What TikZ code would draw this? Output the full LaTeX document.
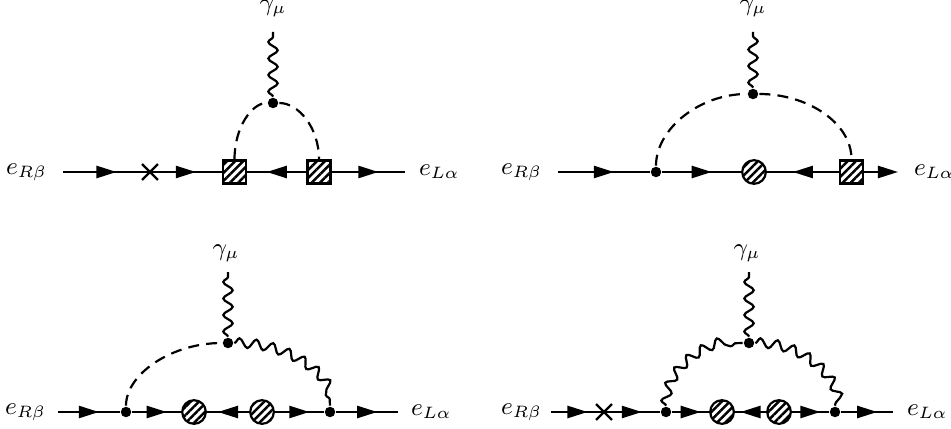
\documentclass[tikz,border=0pt]{standalone}
\usetikzlibrary{arrows.meta,decorations.pathmorphing,decorations.markings,patterns.meta,shapes.misc}
\begin{document}
\begin{tikzpicture}[x=0.3636pt,y=-0.3636pt,line width=0.8pt,
  fwd/.style={postaction={decorate},decoration={markings,mark=at position #1 with {\arrow[xshift=3.65pt]{Triangle[length=7.3pt,width=4.4pt]}}}},
  fwd/.default=0.5,
  endarr/.style={-{Triangle[length=7.3pt,width=4.4pt]}},
  scal/.style={dash pattern=on 4pt off 2.6pt},
  phot/.style={decorate,decoration={snake,amplitude=1.7pt,segment length=6pt}},
  vtx/.style={circle,fill,inner sep=0pt,minimum size=3.8pt},
  blobc/.style={circle,draw,line width=0.8pt,inner sep=0pt,minimum size=8.6pt,pattern={Lines[angle=45,distance=2.1pt,line width=0.9pt]}},
  blobs/.style={rectangle,draw,line width=0.8pt,inner sep=0pt,minimum size=8.4pt,pattern={Lines[angle=45,distance=2.1pt,line width=0.9pt]}},
  mass/.style={cross out,draw,line width=0.8pt,inner sep=0pt,minimum size=5pt},
  lab/.style={inner sep=0pt,font=\fontsize{9}{11}\selectfont}]
\useasboundingbox (0,0) rectangle (951,429);

% ---------- Diagram 1 ----------
\coordinate (a1) at (63,172);
\node[mass] (x1) at (150,172) {};
\node[blobs] (s1) at (234.5,172) {};
\node[blobs] (s2) at (319,172) {};
\coordinate (b1) at (405,172);
\node[vtx] (v1) at (273,103) {};
\coordinate (g1) at (273,32);
\draw[fwd] (a1) -- (x1.center);
\draw[fwd] (x1.center) -- (s1);
\draw[fwd] (s2) -- (s1);
\draw[fwd] (s2) -- (b1);
\draw[scal] (s1.north) .. controls +(0,-31.8) and +(-21.3,0) .. (v1);
\draw[scal] (v1) .. controls +(25.4,0) and +(0,-31.8) .. (s2.north);
\draw[phot] (v1) -- (g1);
\node[lab,anchor=east] (l1) at (48,172) {$e_{R\beta}$};
\node[lab,anchor=west] (r1) at (418,172) {$e_{L\alpha}$};
\node[lab,anchor=base] (t1) at (273,11) {$\gamma_\mu$};

% ---------- Diagram 2 ----------
\coordinate (a2) at (558,172);
\node[vtx] (v2a) at (656,172) {};
\node[blobc] (c2) at (754,172) {};
\node[blobs] (s3) at (851.5,172) {};
\coordinate (b2) at (898,172);
\node[vtx] (v2) at (753,94) {};
\coordinate (g2) at (753,32);
\draw[fwd] (a2) -- (v2a);
\draw[fwd] (v2a) -- (c2);
\draw[fwd] (s3) -- (c2);
\draw[endarr] (s3) -- (b2);
\draw[scal] (v2a) .. controls +(0,-43) and +(-53.6,0) .. (v2);
\draw[scal] (v2) .. controls +(54.4,0) and +(0,-36.7) .. (s3.north);
\draw[phot] (v2) -- (g2);
\node[lab,anchor=east] (l2) at (543,172) {$e_{R\beta}$};
\node[lab,anchor=west] (r2) at (913,172) {$e_{L\alpha}$};
\node[lab,anchor=base] (t2) at (753,11) {$\gamma_\mu$};

% ---------- Diagram 3 ----------
\coordinate (a3) at (58,412);
\node[vtx] (v3a) at (126,412) {};
\node[blobc] (c3) at (194,412) {};
\node[blobc] (c4) at (262,412) {};
\node[vtx] (v3b) at (330,412) {};
\coordinate (b3) at (398,412);
\node[vtx] (v3) at (228,343) {};
\coordinate (g3) at (228,272);
\draw[fwd] (a3) -- (v3a);
\draw[fwd] (v3a) -- (c3);
\draw[fwd] (c4) -- (c3);
\draw[fwd] (c4) -- (v3b);
\draw[fwd] (v3b) -- (b3);
\draw[scal] (v3a) .. controls +(0,-38) and +(-56.3,0) .. (v3);
\draw[phot] (v3) .. controls +(56.3,0) and +(0,-38) .. (v3b);
\draw[phot] (v3) -- (g3);
\node[lab,anchor=east] (l3) at (47,412) {$e_{R\beta}$};
\node[lab,anchor=west] (r3) at (410,412) {$e_{L\alpha}$};
\node[lab,anchor=base] (t3) at (226,256) {$\gamma_\mu$};

% ---------- Diagram 4 ----------
\coordinate (a4) at (551,412);
\node[mass] (x2) at (604,412) {};
\node[vtx] (v4a) at (666,412) {};
\node[blobc] (c5) at (722,412) {};
\node[blobc] (c6) at (779,412) {};
\node[vtx] (v4b) at (835,412) {};
\coordinate (b4) at (893,412);
\node[vtx] (v4) at (749,343) {};
\coordinate (g4) at (749,272);
\draw[fwd] (a4) -- (x2.center);
\draw[fwd] (x2.center) -- (v4a);
\draw[fwd] (v4a) -- (c5);
\draw[fwd] (c6) -- (c5);
\draw[fwd] (c6) -- (v4b);
\draw[fwd] (v4b) -- (b4);
\draw[phot] (v4a) .. controls +(0,-38) and +(-45.8,0) .. (v4);
\draw[phot] (v4) .. controls +(47,0) and +(0,-38) .. (v4b);
\draw[phot] (v4) -- (g4);
\node[lab,anchor=east] (l4) at (543,412) {$e_{R\beta}$};
\node[lab,anchor=west] (r4) at (906,412) {$e_{L\alpha}$};
\node[lab,anchor=base] (t4) at (747,256) {$\gamma_\mu$};
\end{tikzpicture}
\end{document}
